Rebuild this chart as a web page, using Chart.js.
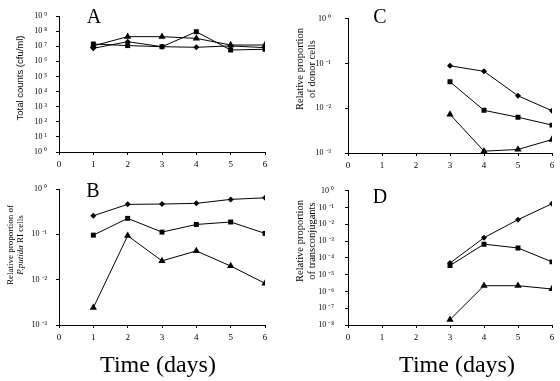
<!DOCTYPE html>
<html>
<head>
<meta charset="utf-8">
<script src="https://cdn.jsdelivr.net/npm/chart.js@4.4.0/dist/chart.umd.min.js"></script>
<style>
body { margin: 0; background: #fff; }
#wrap { position: relative; width: 560px; height: 381px; overflow: hidden; background: #fff; }
#wrap canvas { position: absolute; }
.lab { position: absolute; white-space: nowrap; color: #000; font-family: "Liberation Serif", serif; }
.rot { transform: translate(-50%, -50%) rotate(-90deg); text-align: center; }
.ctr { transform: translate(-50%, -50%); }
</style>
</head>
<body>
<div id="wrap">
  <canvas id="cA" width="280" height="175" style="left:0;top:0"></canvas>
  <canvas id="cB" width="280" height="206" style="left:0;top:175px"></canvas>
  <canvas id="cC" width="280" height="175" style="left:280px;top:0"></canvas>
  <canvas id="cD" width="280" height="206" style="left:280px;top:175px"></canvas>

  <div class="lab ctr" style="left:94px;top:16px;font-size:20px">A</div>
  <div class="lab ctr" style="left:93px;top:190px;font-size:20px">B</div>
  <div class="lab ctr" style="left:380px;top:16px;font-size:20px">C</div>
  <div class="lab ctr" style="left:380px;top:196px;font-size:20px">D</div>

  <div class="lab rot" style="left:19px;top:78px;font-size:9.5px;font-family:'Liberation Sans',sans-serif">Total counts (cfu/ml)</div>
  <div class="lab rot" style="left:15px;top:245px;font-size:9px;line-height:10px">Relative proportion of<br><i>P.putida</i> RI cells</div>
  <div class="lab rot" style="left:306px;top:69px;font-size:10.5px;line-height:12px">Relative proportion<br>of donor cells</div>
  <div class="lab rot" style="left:306px;top:241px;font-size:10.5px;line-height:12px">Relative proportion<br>of transconjugants</div>

  <div class="lab ctr" style="left:158px;top:364px;font-size:24px">Time (days)</div>
  <div class="lab ctr" style="left:457px;top:364px;font-size:24px">Time (days)</div>
</div>
<script>
// days
var daysAB = [1, 2, 3, 4, 5, 6];
var daysCD = [3, 4, 5, 6];
var xTicks = [0, 1, 2, 3, 4, 5, 6];

// A: total counts (cfu/ml)
var aDiamond = [7.3e6, 2.0e7, 9.3e6, 8.5e6, 1.05e7, 8e6];
var aSquare = [1.4e7, 1.1e7, 9.3e6, 9.1e7, 5.6e6, 6.3e6];
var aTriangle = [1.05e7, 4.3e7, 4.3e7, 3.3e7, 1.2e7, 1.2e7];
var aExp = [0, 1, 2, 3, 4, 5, 6, 7, 8, 9];

// B: relative proportion of P.putida RI cells
var bDiamond = [0.257, 0.458, 0.466, 0.482, 0.59, 0.64];
var bSquare = [0.096, 0.225, 0.112, 0.165, 0.187, 0.105];
var bTriangle = [0.0024, 0.093, 0.026, 0.043, 0.020, 0.0083];
var bExp = [-3, -2, -1, 0];

// C: relative proportion of donor cells
var cDiamond = [0.089, 0.067, 0.019, 0.0088];
var cSquare = [0.039, 0.0090, 0.0063, 0.0042];
var cTriangle = [0.0073, 0.0011, 0.0012, 0.0020];
var cExp = [-3, -2, -1, 0];

// D: relative proportion of transconjugants
var dDiamond = [4.9e-5, 1.6e-3, 0.019, 0.17];
var dSquare = [3.5e-5, 6.6e-4, 3.9e-4, 5.8e-5];
var dTriangle = [2.1e-8, 2.2e-6, 2.2e-6, 1.4e-6];
var dExp = [-8, -7, -6, -5, -4, -3, -2, -1, 0];

var sup = { "0": "\u2070", "1": "\u00b9", "2": "\u00b2", "3": "\u00b3", "4": "\u2074", "5": "\u2075",
  "6": "\u2076", "7": "\u2077", "8": "\u2078", "9": "\u2079", "-": "\u207b" };
function powLabel(e) {
  return "10 " + String(e).split("").map(function (c) { return sup[c]; }).join("");
}

function pts(xs, ys) {
  return xs.map(function (x, i) { return { x: x, y: ys[i] }; });
}

function ds(data, style, r) {
  return {
    data: data,
    borderColor: "#000",
    backgroundColor: "#000",
    borderWidth: 1,
    pointStyle: style,
    pointRadius: r,
    pointBorderWidth: 0,
    tension: 0
  };
}

function makeChart(id, xs, series, exps, box) {
  var tickVals = exps.map(function (e) { return Math.pow(10, e); });
  return new Chart(document.getElementById(id), {
    type: "line",
    data: {
      datasets: [
        ds(pts(xs, series[0]), "rectRot", 3),
        ds(pts(xs, series[1]), "rect", 3.5),
        ds(pts(xs, series[2]), "triangle", 4.2)
      ]
    },
    options: {
      responsive: false,
      animation: false,
      events: [],
      layout: { padding: { left: 0, right: box.right, top: box.top, bottom: 0 } },
      plugins: { legend: { display: false }, tooltip: { enabled: false } },
      scales: {
        x: {
          type: "linear",
          min: 0, max: 6,
          afterBuildTicks: function (s) { s.ticks = xTicks.map(function (v) { return { value: v }; }); },
          afterFit: function (s) { s.height = box.xh; },
          border: { color: "#000", width: 1 },
          grid: { drawOnChartArea: false, color: "#000", tickLength: 3 },
          ticks: { color: "#000", padding: 4, maxRotation: 0, font: { family: "Liberation Serif", size: 9 } }
        },
        y: {
          type: "logarithmic",
          min: tickVals[0], max: tickVals[tickVals.length - 1],
          afterBuildTicks: function (s) { s.ticks = tickVals.map(function (v) { return { value: v }; }); },
          afterFit: function (s) { s.width = box.yw; },
          border: { color: "#000", width: 1 },
          grid: { drawOnChartArea: false, color: "#000", tickLength: 3 },
          ticks: {
            color: "#000", padding: box.pad, autoSkip: false,
            font: { family: "Liberation Serif", size: 8 },
            callback: function (v) { return powLabel(Math.round(Math.log10(v))); }
          }
        }
      }
    }
  });
}

makeChart("cA", daysAB, [aDiamond, aSquare, aTriangle], aExp, { yw: 59, xh: 23, top: 16, right: 15, pad: 9 });
makeChart("cB", daysAB, [bDiamond, bSquare, bTriangle], bExp, { yw: 59, xh: 56, top: 14, right: 15, pad: 9 });
makeChart("cC", daysCD, [cDiamond, cSquare, cTriangle], cExp, { yw: 68, xh: 22, top: 16, right: 8, pad: 14 });
makeChart("cD", daysCD, [dDiamond, dSquare, dTriangle], dExp, { yw: 68, xh: 56, top: 14, right: 8, pad: 11 });
</script>
</body>
</html>
